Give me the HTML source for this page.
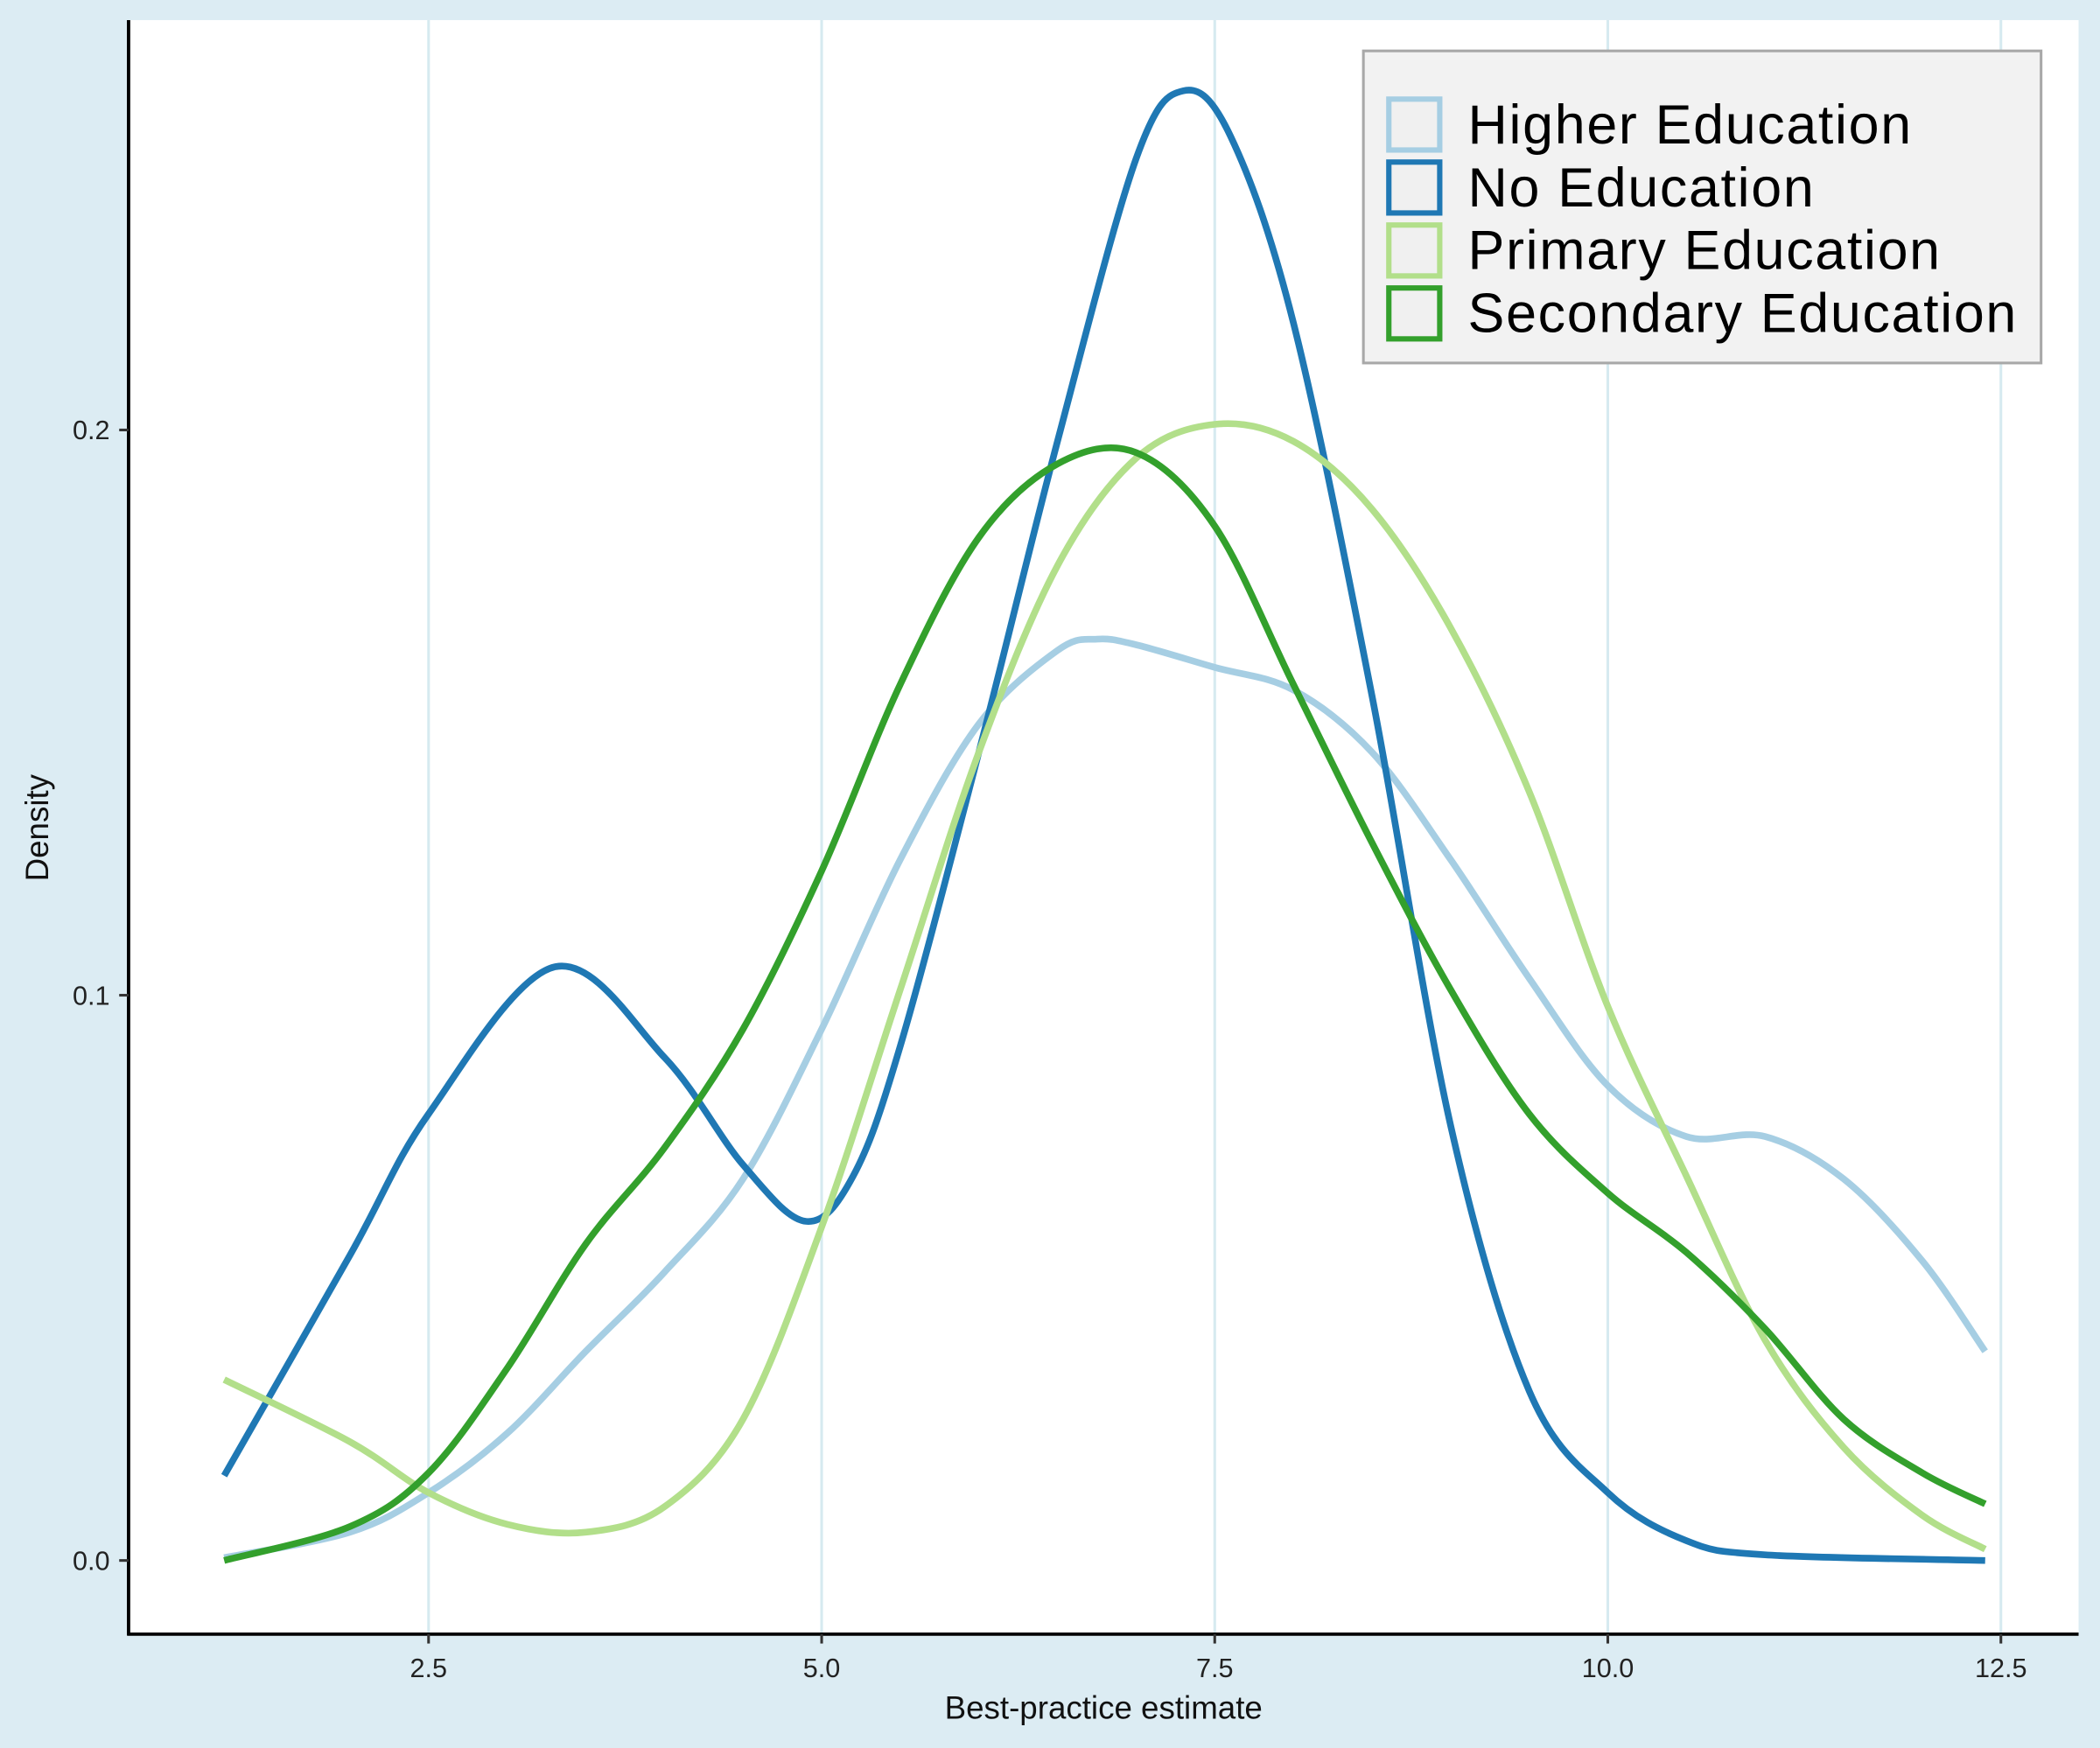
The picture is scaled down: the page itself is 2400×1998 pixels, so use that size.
<!DOCTYPE html>
<html><head><meta charset="utf-8"><style>
html,body{margin:0;padding:0;background:#dcecf3;}
svg{display:block;font-family:"Liberation Sans",Arial,sans-serif;}
</style></head><body>
<svg id="chart" width="2400" height="1998" viewBox="0 0 1568 1305" preserveAspectRatio="none" xmlns="http://www.w3.org/2000/svg">
<rect x="0" y="0" width="1568" height="1305" fill="#dcecf3"/>
<rect x="96" y="15" width="1456" height="1205" fill="#ffffff"/>
<g id="grid"></g>
<g id="series"></g>
<line x1="96" y1="15" x2="96" y2="1221" stroke="#000" stroke-width="2.5"/>
<line x1="95" y1="1220" x2="1552" y2="1220" stroke="#000" stroke-width="2.5"/>
<g id="ticks"></g>
<text x="824" y="1283" font-size="24" text-anchor="middle" fill="#111">Best-practice estimate</text>
<text transform="translate(36,618) rotate(-90)" font-size="24" text-anchor="middle" fill="#111">Density</text>
<g>
<rect x="1018" y="38" width="506" height="233" fill="#f2f2f2" stroke="#a8a8a8" stroke-width="2"/>
<g id="legend-items"></g>
</g>
</svg>
<script>
const xTicks=[2.5,5.0,7.5,10.0,12.5];
const yTicks=[0.0,0.1,0.2];
const names=["Higher Education","No Education","Primary Education","Secondary Education"];
const colors=["#a6cee3","#1f78b4","#b2df8a","#33a02c"];
const xsHigher=[1.2,2.0,2.5,3.0,3.5,4.0,4.5,5.0,5.5,6.0,6.5,6.75,7.0,7.5,8.0,8.5,9.0,9.5,10.0,10.5,11.0,11.5,12.0,12.4];
const ysHigher=[0.0005,0.005,0.012,0.0225,0.037,0.051,0.0675,0.094,0.124,0.148,0.161,0.163,0.162,0.158,0.154,0.143,0.124,0.103,0.084,0.075,0.075,0.0675,0.053,0.037];
const xsNone=[1.2,2.0,2.5,3.3,4.0,4.5,4.9,5.2,5.5,6.0,6.5,7.0,7.3,7.6,8.0,8.5,9.0,9.5,10.0,10.5,11.0,12.4];
const ysNone=[0.015,0.054,0.079,0.105,0.089,0.070,0.060,0.068,0.091,0.143,0.198,0.248,0.260,0.252,0.219,0.153,0.077,0.030,0.012,0.0035,0.001,0.0];
const xsPrimary=[1.2,2.0,2.5,3.0,3.5,4.0,4.5,5.0,5.5,6.0,6.5,7.0,7.5,8.0,8.5,9.0,9.5,10.0,10.5,11.0,11.5,12.0,12.4];
const ysPrimary=[0.032,0.021,0.012,0.0064,0.005,0.0095,0.025,0.059,0.101,0.143,0.176,0.195,0.201,0.198,0.186,0.165,0.136,0.098,0.068,0.039,0.020,0.008,0.002];
const xsSecondary=[1.2,2.0,2.5,3.0,3.5,4.0,4.5,5.0,5.5,6.0,6.5,7.0,7.5,8.0,8.5,9.0,9.5,10.0,10.5,11.0,11.5,12.0,12.4];
const ysSecondary=[0.0,0.006,0.0155,0.034,0.056,0.073,0.094,0.122,0.155,0.181,0.194,0.196,0.183,0.155,0.127,0.101,0.079,0.065,0.0545,0.041,0.025,0.0155,0.010];

const NS="http://www.w3.org/2000/svg";
function sx(v){return 320+(v-2.5)*117.4;}
function sy(v){return 1165-v*4220;}
function mk(tag,attrs,parent){const e=document.createElementNS(NS,tag);for(const k in attrs)e.setAttribute(k,attrs[k]);parent.appendChild(e);return e;}
const grid=document.getElementById('grid'),ticks=document.getElementById('ticks'),series=document.getElementById('series'),leg=document.getElementById('legend-items');
xTicks.forEach(t=>{
  const g=mk('line',{x1:sx(t),x2:sx(t),y1:15,y2:1220,stroke:'#d6eaf0','stroke-width':2},grid);
  
  
  const tk=mk('line',{x1:sx(t),x2:sx(t),y1:1220,y2:1227,stroke:'#333','stroke-width':2},ticks);
  
  
  const tx=mk('text',{x:sx(t),y:1252,'font-size':20,'text-anchor':'middle',fill:'#222'},ticks);
  tx.textContent=t.toFixed(1);
  
  
});
yTicks.forEach(t=>{
  const tk=mk('line',{x1:89,x2:96,y1:sy(t),y2:sy(t),stroke:'#333','stroke-width':2},ticks);
  
  
  const tx=mk('text',{x:82,y:sy(t)+7,'font-size':20,'text-anchor':'end',fill:'#222'},ticks);
  tx.textContent=t.toFixed(1);
  
  
});
function pathFor(xs,ys){
  const p=xs.map((x,i)=>[sx(x),sy(ys[i])]);
  let d='M'+p[0][0]+','+p[0][1];
  for(let i=0;i<p.length-1;i++){
    const p0=p[Math.max(0,i-1)],p1=p[i],p2=p[i+1],p3=p[Math.min(p.length-1,i+2)];
    const c1=[p1[0]+(p2[0]-p0[0])/6,p1[1]+(p2[1]-p0[1])/6];
    const c2=[p2[0]-(p3[0]-p1[0])/6,p2[1]-(p3[1]-p1[1])/6];
    d+=' C'+c1+' '+c2+' '+p2;
  }
  return d;
}
const data=[[xsHigher,ysHigher],[xsNone,ysNone],[xsPrimary,ysPrimary],[xsSecondary,ysSecondary]];
const slugs=['higher-education','no-education','primary-education','secondary-education'];
data.forEach((s,i)=>{
  const p=mk('path',{d:pathFor(s[0],s[1]),fill:'none',stroke:colors[i],'stroke-width':5,'stroke-linecap':'butt','stroke-linejoin':'round'},series);
  
  
});
names.forEach((n,i)=>{
  const y=93+i*47;
  const r=mk('rect',{x:1037,y:y-19,width:38,height:38,fill:'#f0f0f0',stroke:colors[i],'stroke-width':4},leg);
  
  
  const t=mk('text',{x:1096,y:y+14,'font-size':41,'letter-spacing':1.1,fill:'#000'},leg);
  t.textContent=n;
  
  
});
</script>
</body></html>
